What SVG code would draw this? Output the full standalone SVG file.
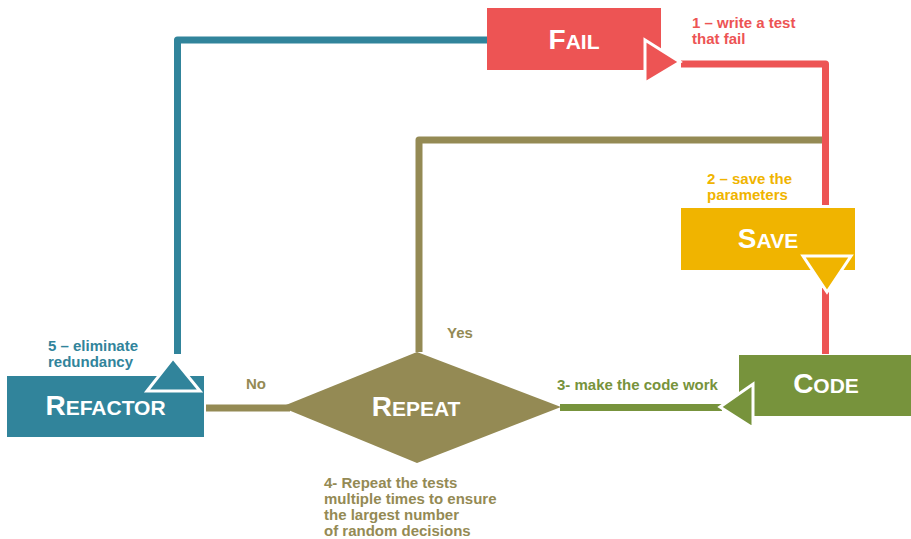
<svg xmlns="http://www.w3.org/2000/svg" width="911" height="539" viewBox="0 0 911 539">
<style>
.lbl{font-family:"Liberation Sans",Arial,sans-serif;font-weight:bold;font-size:15px}
.ttl{font-family:"Liberation Sans",Arial,sans-serif;font-weight:bold;fill:#fff;text-anchor:middle}
.big{font-size:28px}
.sm{font-size:21px}
.ln{fill:none;stroke-width:7;stroke-linejoin:round}
.tri{stroke:#fff;stroke-width:3;stroke-linejoin:miter}
</style>
<rect width="911" height="539" fill="#fff"/>
<g id="connectors">
<path class="ln" stroke="#948A54" d="M823,140 H419 V352"/>
<path class="ln" stroke="#31849B" d="M488,40 H177.5 V354"/>
<path class="ln" stroke="#ED5454" d="M681,64 H825.5 V205"/>
<path class="ln" stroke="#ED5454" d="M825.5,288 V354"/>
<path class="ln" stroke="#948A54" d="M206,408 H290"/>
<path class="ln" stroke="#77933C" d="M560,407.5 H722"/>
</g>
<g id="fail">
<rect x="487" y="8" width="174" height="62" fill="#ED5454"/>
<text class="ttl" x="574" y="49"><tspan class="big">F</tspan><tspan class="sm">AIL</tspan></text>
<polygon class="tri" fill="#ED5454" points="645,40 645,83 680,62"/>
<text class="lbl" fill="#ED5454" x="692" y="28">1 – write a test</text>
<text class="lbl" fill="#ED5454" x="692" y="44">that fail</text>
</g>
<g id="save">
<rect x="681" y="208" width="174" height="62" fill="#F0B400"/>
<text class="ttl" x="768" y="248"><tspan class="big">S</tspan><tspan class="sm">AVE</tspan></text>
<polygon class="tri" fill="#F0B400" points="803,256 851,256 827,292"/>
<text class="lbl" fill="#F0B400" x="707" y="184">2 – save the</text>
<text class="lbl" fill="#F0B400" x="707" y="200">parameters</text>
</g>
<g id="code">
<rect x="739" y="355" width="174" height="61" fill="#77933C"/>
<text class="ttl" x="826" y="393"><tspan class="big">C</tspan><tspan class="sm">ODE</tspan></text>
<polygon class="tri" fill="#77933C" points="753,384 753,428 720,407"/>
<text class="lbl" fill="#77933C" x="557" y="390">3- make the code work</text>
</g>
<g id="repeat">
<polygon fill="#948A54" points="417,352 561,407 417,463 281,407"/>
<text class="ttl" x="416" y="416"><tspan class="big">R</tspan><tspan class="sm">EPEAT</tspan></text>
<text class="lbl" fill="#948A54" x="447" y="338">Yes</text>
<text class="lbl" fill="#948A54" x="246" y="389">No</text>
<text class="lbl" fill="#948A54" x="324" y="488">4- Repeat the tests</text>
<text class="lbl" fill="#948A54" x="324" y="504">multiple times to ensure</text>
<text class="lbl" fill="#948A54" x="324" y="520">the largest number</text>
<text class="lbl" fill="#948A54" x="324" y="536">of random decisions</text>
</g>
<g id="refactor">
<rect x="7" y="376" width="197" height="61" fill="#31849B"/>
<text class="ttl" x="105.5" y="415"><tspan class="big">R</tspan><tspan class="sm">EFACTOR</tspan></text>
<polygon class="tri" fill="#31849B" points="147,391 200,391 173,358"/>
<text class="lbl" fill="#31849B" x="48" y="351">5 – eliminate</text>
<text class="lbl" fill="#31849B" x="48" y="367">redundancy</text>
</g>
</svg>
